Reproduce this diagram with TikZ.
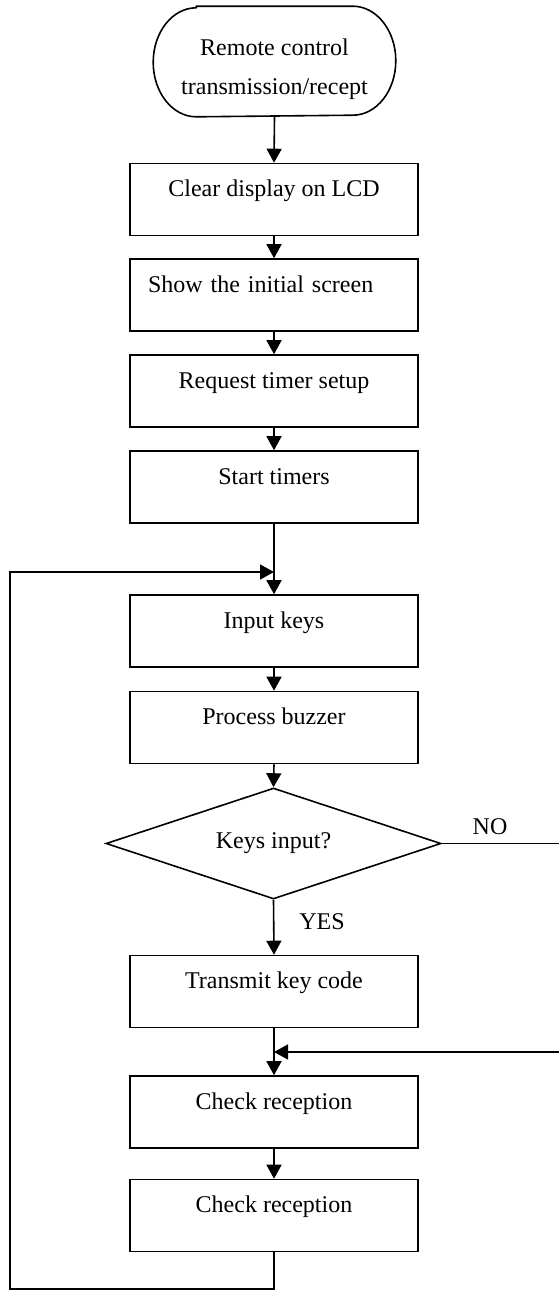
\documentclass[tikz,border=0pt]{standalone}
\usepackage{fontspec}
\setmainfont{Liberation Serif}
\usetikzlibrary{shapes.geometric,arrows.meta}
\tikzset{
  base/.style={font=\fontsize{12pt}{19.5pt}\selectfont, line width=0.8pt},
  proc/.style={base, draw, rectangle, minimum width=144pt, minimum height=36pt,
    inner xsep=0pt, inner ysep=0pt, text height=16.5pt, text depth=19.5pt},
  procleft/.style={proc, text width=126pt, align=left, inner xsep=9pt},
  decide/.style={base, draw, diamond, aspect=3.02, minimum width=167.5pt, minimum height=55.5pt, inner sep=0pt},
  termtext/.style={base, minimum width=120.5pt, inner xsep=0pt, inner ysep=0pt, text height=24pt, text depth=30.5pt},
  flow/.style={line width=0.8pt, -{Triangle[length=7pt,width=7.5pt]}},
  plain/.style={line width=0.8pt, line join=round},
  lbl/.style={font=\fontsize{12pt}{14pt}\selectfont, inner sep=0pt}
}
\begin{document}
\begin{tikzpicture}[x=0.5pt,y=-0.5pt]
\useasboundingbox (0,0) rectangle (558,1291);
% terminal
\node[termtext] (term) at (274.5,61.5) {\parbox[t]{120pt}{\centering Remote control\\transmission/recept}};
\draw[plain] ([xshift=21.5pt]term.north west) -- ([xshift=-21.5pt]term.north east)
  arc[start angle=90,end angle=-90,x radius=21.5pt,y radius=27.25pt]
  -- ([xshift=21.5pt]term.south west)
  arc[start angle=270,end angle=90,x radius=21.5pt,y radius=27.25pt] -- cycle;
% process boxes
\node[proc] (clear) at (274,199.5) {Clear display on LCD};
\node[procleft] (show) at (274,295) {Show the initial screen};
\node[proc] (req) at (274,391) {Request timer setup};
\node[proc] (start) at (274,487) {Start timers};
\node[proc] (input) at (274,631) {Input keys};
\node[proc] (buzz) at (274,727.5) {Process buzzer};
\node[decide] (keys) at (273.5,843.5) {\raisebox{3pt}{Keys input?}};
\node[proc] (tx) at (274,991.5) {Transmit key code};
\node[proc] (chk1) at (274,1112) {Check reception};
\node[proc] (chk2) at (274,1215.5) {Check reception};
% labels
\node[lbl] (no) at (490,827) {NO};
\node[lbl] (yes) at (322,922) {YES};
% coordinates for loops
\coordinate (jt) at (274,572);
\coordinate (lt) at (10,572);
\coordinate (lb) at (10,1289);
\coordinate (cb) at (274,1289);
\coordinate (rt) at (560,843.5);
\coordinate (rb) at (560,1052);
\coordinate (jb) at (274,1052);
% main flow
\draw[flow] (term.south) -- (clear.north);
\draw[flow] (clear.south) -- (show.north);
\draw[flow] (show.south) -- (req.north);
\draw[flow] (req.south) -- (start.north);
\draw[flow] (start.south) -- (input.north);
\draw[flow] (input.south) -- (buzz.north);
\draw[flow] (buzz.south) -- (keys.north);
\draw[flow] (keys.south) -- (tx.north);
\draw[flow] (tx.south) -- (chk1.north);
\draw[flow] (chk1.south) -- (chk2.north);
% loops
\draw[flow] (chk2.south) -- (cb) -- (lb) -- (lt) -- (jt);
\draw[flow] (keys.east) -- (rt) -- (rb) -- (jb);
\end{tikzpicture}
\end{document}
